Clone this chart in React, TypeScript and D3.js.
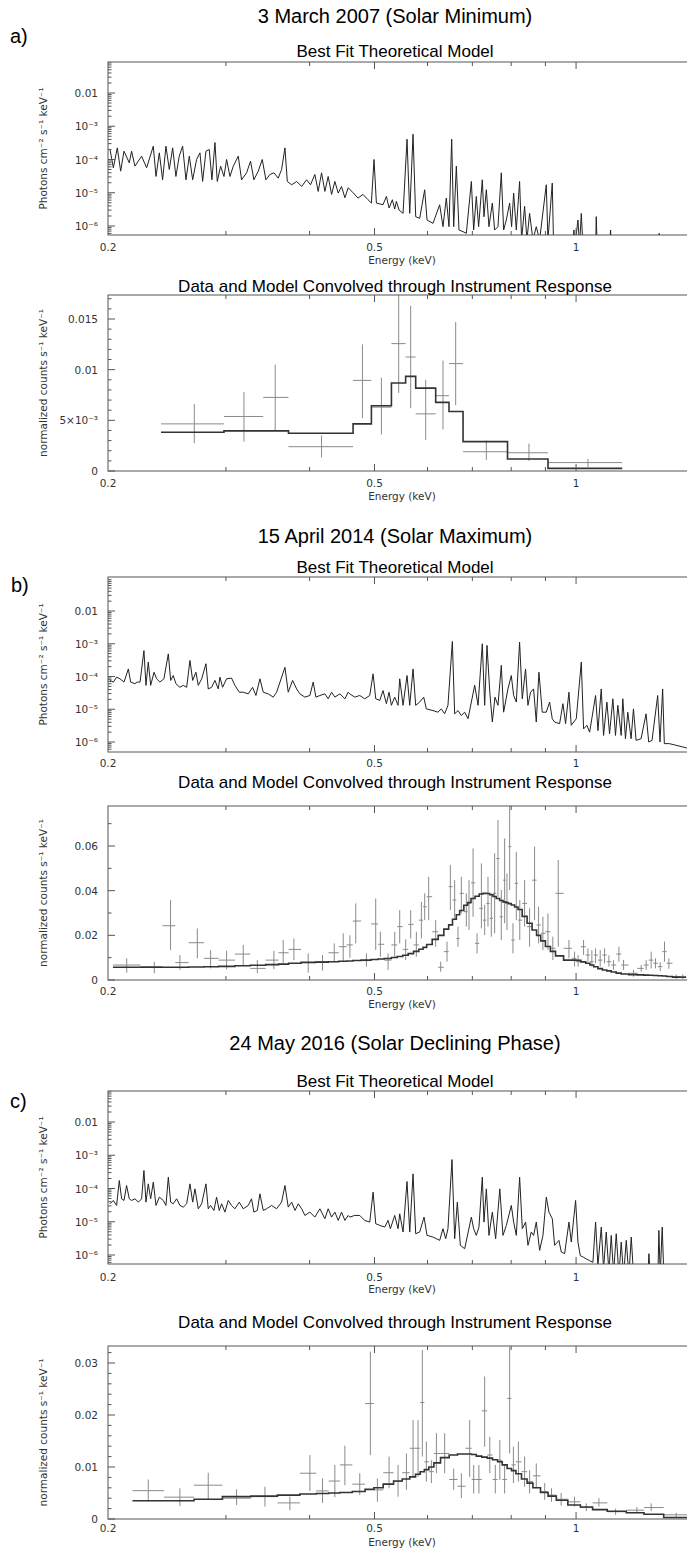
import React from 'react';
import * as d3 from 'd3';

// ---- text ----
const dates = ['3 March 2007 (Solar Minimum)', '15 April 2014 (Solar Maximum)', '24 May 2016 (Solar Declining Phase)'];
const letters = ['a)', 'b)', 'c)'];
const modelTitle = 'Best Fit Theoretical Model';
const dataTitle = 'Data and Model Convolved through Instrument Response';
const energyLabel = 'Energy (keV)';
const fluxLabel = 'Photons cm⁻² s⁻¹ keV⁻¹';
const countLabel = 'normalized counts s⁻¹ keV⁻¹';

// ---- energy axis (keV, log) ----
const energyDomain = [0.2, 1.5];
const energyTickValues = [0.2, 0.5, 1];
const energyTickLabels = ['0.2', '0.5', '1'];
const energyMinor = [0.3, 0.4, 0.6, 0.7, 0.8, 0.9];

// ---- flux axis of the model plots ----
const fluxTicks = [1e-6, 1e-5, 1e-4, 1e-3, 1e-2];
const fluxTickLabels = ['10⁻⁶', '10⁻⁵', '10⁻⁴', '10⁻³', '0.01'];

// ---- count axes of the folded plots ----
const countTicksA = [0, 0.005, 0.01, 0.015];
const countLabelsA = ['0', '5×10⁻³', '0.01', '0.015'];
const countTicksB = [0, 0.02, 0.04, 0.06];
const countLabelsB = ['0', '0.02', '0.04', '0.06'];
const countTicksC = [0, 0.01, 0.02, 0.03];
const countLabelsC = ['0', '0.01', '0.02', '0.03'];
const countMinorStep = [0.001, 0.01, 0.002];

// ---- model spectra: [energy keV, log10 flux] ----
const modelA = [
  [0.2014,-3.70],[0.2037,-4.25],[0.2065,-3.65],[0.2089,-4.35],[0.2113,-3.75],[0.2152,-4.10],[0.2169,-3.75],[0.2194,-4.20],
  [0.2245,-3.90],[0.2284,-4.25],[0.2337,-3.60],[0.2359,-4.51],[0.2386,-3.80],[0.2413,-4.61],[0.2441,-3.60],[0.2469,-4.30],
  [0.2498,-3.65],[0.2526,-4.51],[0.2555,-3.90],[0.2585,-3.60],[0.2615,-4.61],[0.2645,-3.90],[0.2676,-4.61],[0.2712,-4.00],
  [0.2744,-3.80],[0.2769,-4.66],[0.2801,-3.75],[0.2833,-3.70],[0.2859,-4.61],[0.2889,-3.49],[0.2912,-4.66],[0.2946,-4.20],
  [0.2980,-4.51],[0.3007,-4.00],[0.3042,-4.51],[0.3077,-4.20],[0.3130,-3.90],[0.3166,-4.61],[0.3221,-4.40],[0.3265,-4.05],
  [0.3303,-4.61],[0.3353,-4.35],[0.3399,-4.00],[0.3442,-4.61],[0.3490,-4.45],[0.3538,-4.40],[0.3591,-4.56],[0.3633,-4.30],
  [0.3675,-3.65],[0.3705,-4.66],[0.3761,-4.76],[0.3826,-4.66],[0.3892,-4.81],[0.3959,-4.61],[0.4013,-4.76],[0.4073,-4.45],
  [0.4120,-4.96],[0.4168,-4.40],[0.4216,-4.96],[0.4264,-4.51],[0.4314,-5.05],[0.4363,-4.66],[0.4414,-5.01],[0.4464,-4.81],
  [0.4516,-5.15],[0.4568,-4.85],[0.4645,-5.00],[0.4725,-5.16],[0.4807,-5.05],[0.4890,-5.21],[0.4947,-5.31],[0.4992,-4.00],
  [0.5033,-5.31],[0.5149,-5.36],[0.5209,-5.11],[0.5257,-5.46],[0.5317,-5.21],[0.5360,-5.49],[0.5391,-5.26],[0.5441,-5.52],
  [0.5516,-5.62],[0.5592,-3.39],[0.5644,-5.62],[0.5709,-3.24],[0.5761,-5.72],[0.5841,-5.77],[0.5942,-4.91],[0.5990,-5.82],
  [0.6114,-5.92],[0.6256,-5.36],[0.6328,-6.02],[0.6401,-5.16],[0.6460,-6.02],[0.6520,-3.39],[0.6565,-6.02],[0.6625,-4.20],
  [0.6686,-6.12],[0.6779,-6.17],[0.6857,-6.22],[0.6976,-4.66],[0.7032,-6.12],[0.7096,-5.11],[0.7153,-6.02],[0.7244,-4.61],
  [0.7286,-5.72],[0.7345,-4.91],[0.7412,-6.02],[0.7498,-5.31],[0.7558,-6.12],[0.7645,-6.02],[0.7733,-4.40],[0.7795,-6.12],
  [0.7867,-5.82],[0.7958,-5.31],[0.8012,-6.02],[0.8068,-5.01],[0.8142,-6.12],[0.8235,-4.66],[0.8292,-6.42],[0.8378,-5.41],
  [0.8445,-6.42],[0.8523,-5.62],[0.8621,-6.42],[0.8721,-6.02],[0.8821,-6.42],[0.9026,-4.76],[0.9078,-6.42],[0.9214,-4.71],
  [0.9256,-6.60],[0.9892,-6.60],[0.9926,-6.12],[0.9960,-6.60],[1.0065,-5.82],[1.0120,-6.60],[1.0181,-5.62],[1.0240,-6.60],
  [1.0700,-6.60],[1.0718,-5.72],[1.0750,-6.60],[1.1220,-6.60],[1.1259,-6.12],[1.1290,-6.60],[1.3270,-6.60],[1.3307,-6.22],
  [1.3340,-6.60],[1.5000,-6.60],
];

const modelB = [
  [0.2014,-4.12],[0.2037,-4.17],[0.2060,-4.02],[0.2084,-4.07],[0.2113,-4.17],[0.2145,-3.77],[0.2162,-4.17],[0.2194,-4.22],
  [0.2212,-4.17],[0.2233,-4.17],[0.2263,-3.21],[0.2279,-4.27],[0.2297,-3.56],[0.2316,-4.27],[0.2343,-3.87],[0.2364,-4.07],
  [0.2391,-4.17],[0.2424,-4.07],[0.2461,-3.31],[0.2481,-4.12],[0.2503,-3.97],[0.2526,-4.22],[0.2561,-4.33],[0.2591,-4.27],
  [0.2621,-4.33],[0.2651,-3.51],[0.2676,-4.12],[0.2706,-3.87],[0.2728,-4.27],[0.2760,-4.07],[0.2801,-3.61],[0.2823,-4.38],
  [0.2856,-4.33],[0.2889,-4.12],[0.2922,-4.38],[0.2939,-4.02],[0.2966,-4.33],[0.3007,-4.07],[0.3059,-4.05],[0.3094,-4.27],
  [0.3141,-4.48],[0.3184,-4.48],[0.3239,-4.53],[0.3288,-4.33],[0.3326,-4.58],[0.3372,-4.07],[0.3411,-4.48],[0.3470,-4.53],
  [0.3530,-4.63],[0.3571,-4.48],[0.3675,-3.72],[0.3717,-4.48],[0.3773,-4.12],[0.3826,-4.38],[0.3869,-4.53],[0.3936,-4.63],
  [0.4004,-4.58],[0.4050,-4.17],[0.4088,-4.63],[0.4144,-4.58],[0.4216,-4.53],[0.4264,-4.68],[0.4314,-4.48],[0.4363,-4.63],
  [0.4439,-4.53],[0.4516,-4.68],[0.4568,-4.48],[0.4592,-4.53],[0.4672,-4.63],[0.4753,-4.58],[0.4835,-4.68],[0.4919,-4.58],
  [0.4976,-3.92],[0.5022,-4.68],[0.5092,-4.73],[0.5149,-4.43],[0.5209,-4.83],[0.5257,-4.48],[0.5299,-4.88],[0.5360,-4.63],
  [0.5422,-4.88],[0.5453,-4.07],[0.5516,-4.88],[0.5592,-3.97],[0.5644,-4.88],[0.5709,-3.77],[0.5761,-4.88],[0.5841,-4.78],
  [0.5922,-4.63],[0.5976,-4.99],[0.6114,-5.04],[0.6219,-5.09],[0.6291,-4.99],[0.6364,-5.14],[0.6437,-4.88],[0.6535,-2.93],
  [0.6587,-5.14],[0.6663,-5.04],[0.6740,-5.19],[0.6818,-5.09],[0.6897,-5.29],[0.6976,-4.78],[0.7057,-4.27],[0.7139,-4.88],
  [0.7244,-3.00],[0.7303,-4.88],[0.7362,-3.05],[0.7433,-4.48],[0.7498,-5.39],[0.7567,-4.63],[0.7645,-4.88],[0.7733,-3.66],
  [0.7795,-5.09],[0.7911,-4.38],[0.8003,-3.97],[0.8068,-4.58],[0.8142,-4.78],[0.8235,-2.95],[0.8311,-4.68],[0.8406,-3.77],
  [0.8474,-4.88],[0.8552,-4.48],[0.8641,-4.38],[0.8721,-5.39],[0.8801,-3.87],[0.8902,-5.09],[0.9026,-5.09],[0.9130,-4.78],
  [0.9214,-5.29],[0.9288,-5.39],[0.9449,-5.44],[0.9558,-4.83],[0.9645,-5.44],[0.9757,-4.48],[0.9835,-5.49],[1.0007,-5.29],
  [1.0181,-3.56],[1.0262,-5.60],[1.0381,-5.49],[1.0477,-5.70],[1.0693,-4.58],[1.0781,-5.65],[1.0904,-4.38],[1.0991,-5.80],
  [1.1118,-4.78],[1.1220,-5.75],[1.1348,-4.68],[1.1452,-5.80],[1.1544,-4.88],[1.1677,-5.80],[1.1743,-4.68],[1.1851,-5.90],
  [1.1946,-5.09],[1.2083,-5.90],[1.2181,-4.99],[1.2292,-5.95],[1.2504,-5.90],[1.2720,-5.14],[1.2837,-6.00],[1.2984,-5.95],
  [1.3239,-4.58],[1.3345,-6.00],[1.3467,-4.38],[1.3545,-6.05],[1.3780,-6.05],[1.4100,-6.10],[1.4427,-6.15],[1.4609,-6.18],
  [1.5000,-6.20],
];

const modelC = [
  [0.2014,-4.46],[0.2037,-4.36],[0.2060,-4.51],[0.2079,-3.76],[0.2096,-4.31],[0.2113,-4.36],[0.2132,-3.91],[0.2152,-4.31],
  [0.2169,-4.36],[0.2194,-4.31],[0.2220,-4.41],[0.2245,-4.31],[0.2263,-3.46],[0.2279,-4.41],[0.2297,-3.86],[0.2316,-4.31],
  [0.2337,-3.81],[0.2359,-4.51],[0.2386,-4.26],[0.2419,-4.36],[0.2441,-4.51],[0.2461,-3.66],[0.2481,-4.41],[0.2503,-4.46],
  [0.2532,-4.31],[0.2561,-4.51],[0.2591,-4.56],[0.2621,-4.46],[0.2651,-3.86],[0.2676,-4.41],[0.2697,-4.01],[0.2728,-4.61],
  [0.2760,-4.46],[0.2801,-3.86],[0.2823,-4.61],[0.2846,-4.51],[0.2879,-4.66],[0.2905,-4.26],[0.2932,-4.66],[0.2956,-4.46],
  [0.2990,-4.71],[0.3024,-4.36],[0.3059,-4.51],[0.3094,-4.61],[0.3141,-4.41],[0.3184,-4.61],[0.3239,-4.51],[0.3276,-4.31],
  [0.3303,-4.71],[0.3342,-4.66],[0.3372,-4.16],[0.3411,-4.66],[0.3450,-4.61],[0.3510,-4.51],[0.3571,-4.61],[0.3633,-4.41],
  [0.3675,-3.91],[0.3717,-4.56],[0.3761,-4.41],[0.3804,-4.66],[0.3848,-4.46],[0.3892,-4.61],[0.3936,-4.81],[0.4004,-4.71],
  [0.4073,-4.86],[0.4144,-4.61],[0.4216,-4.91],[0.4264,-4.61],[0.4314,-4.86],[0.4363,-4.71],[0.4414,-4.96],[0.4464,-4.71],
  [0.4516,-4.96],[0.4568,-4.81],[0.4592,-4.86],[0.4672,-4.81],[0.4753,-4.81],[0.4835,-4.96],[0.4919,-5.01],[0.4976,-4.11],
  [0.5022,-5.06],[0.5092,-5.11],[0.5179,-5.16],[0.5239,-4.96],[0.5281,-5.21],[0.5360,-4.81],[0.5422,-5.21],[0.5453,-4.76],
  [0.5516,-5.31],[0.5592,-3.79],[0.5644,-5.31],[0.5709,-3.56],[0.5761,-5.36],[0.5841,-5.31],[0.5929,-4.86],[0.5990,-5.41],
  [0.6114,-5.46],[0.6256,-5.56],[0.6328,-5.21],[0.6387,-5.51],[0.6437,-5.21],[0.6527,-3.13],[0.6587,-5.51],[0.6648,-4.41],
  [0.6717,-5.71],[0.6818,-5.81],[0.6976,-4.86],[0.7032,-5.21],[0.7096,-5.41],[0.7161,-5.16],[0.7244,-3.66],[0.7286,-5.01],
  [0.7345,-4.01],[0.7412,-5.41],[0.7498,-4.71],[0.7584,-5.51],[0.7693,-4.01],[0.7777,-5.41],[0.7868,-5.11],[0.8004,-4.51],
  [0.8068,-5.01],[0.8142,-5.41],[0.8236,-3.66],[0.8312,-5.21],[0.8407,-5.01],[0.8475,-5.71],[0.8573,-5.31],[0.8642,-5.41],
  [0.8722,-5.01],[0.8822,-5.86],[0.8924,-5.41],[0.9027,-4.26],[0.9109,-4.71],[0.9215,-4.91],[0.9289,-5.71],[0.9428,-5.56],
  [0.9504,-5.91],[0.9614,-5.96],[0.9758,-5.01],[0.9836,-5.61],[0.9984,-4.36],[1.0065,-5.61],[1.0146,-6.02],[1.0263,-6.07],
  [1.0357,-6.12],[1.0476,-6.17],[1.0596,-6.22],[1.0694,-5.01],[1.0780,-6.32],[1.0905,-5.16],[1.0992,-6.42],[1.1093,-5.31],
  [1.1195,-6.52],[1.1286,-5.41],[1.1376,-6.57],[1.1481,-5.36],[1.1587,-6.62],[1.1680,-5.61],[1.1774,-6.62],[1.1883,-5.56],
  [1.1992,-6.62],[1.2089,-5.46],[1.2186,-6.62],[1.2800,-6.62],[1.2846,-5.96],[1.2904,-6.62],[1.3249,-6.62],[1.3294,-5.26],
  [1.3355,-6.62],[1.3447,-5.16],[1.3524,-6.62],[1.5000,-6.62],
];

// ---- folded spectra: [bin centre keV, counts, err low, err high, folded model] ----
const edgesA = [0.240, 0.298, 0.341, 0.372, 0.4645, 0.4947, 0.530, 0.5565, 0.5761, 0.6171, 0.646, 0.678, 0.790, 0.908, 1.172];
const foldedA = [
  [0.2691,0.00465,0.00274,0.0066,0.00383],[0.3192,0.00538,0.0029,0.0078,0.00396],[0.3554,0.00726,0.00396,0.0105,0.00396],
  [0.4168,0.0024,0.00135,0.0035,0.00373],[0.4797,0.00894,0.0052,0.0125,0.00465],[0.5120,0.0063,0.0036,0.0092,0.00644],
  [0.5434,0.01257,0.0077,0.0175,0.00868],[0.5663,0.01125,0.0062,0.0163,0.00934],[0.5963,0.00564,0.00307,0.009,0.00818],
  [0.6328,0.00743,0.0041,0.0109,0.00677],[0.6610,0.0106,0.0065,0.0147,0.00587],[0.7345,0.0019,0.0011,0.0030,0.0029],
  [0.8504,0.0018,0.0010,0.0027,0.00119],[1.0416,0.00083,0.0004,0.0012,0.00026],
];

const foldedB = [
  [0.2133,.0067,.0033,.0097,.0057],[0.2345,.0060,.0030,.0082,.0057],[0.2480,.0243,.0134,.0358,.0057],[0.2561,.0078,.0045,.0112,.0057],
  [0.2719,.0167,.0097,.0231,.0058],[0.2846,.0097,.0052,.0134,.0059],[0.3007,.0089,.0048,.0131,.0061],[0.3184,.0116,.0067,.0157,.0064],
  [0.3342,.0052,.0030,.0089,.0066],[0.3538,.0089,.0048,.0131,.0069],[0.3653,.0122,.0075,.0179,.0071],[0.3790,.0137,.0089,.0186,.0075],
  [0.3981,.0078,.0033,.0119,.0079],[0.4182,.0082,.0042,.0112,.0080],[0.4354,.0122,.0082,.0164,.0082],[0.4490,.0149,.0082,.0209,.0084],
  [0.4595,.0157,.0100,.0200,.0085],[0.4688,.0264,.0164,.0343,.0087],[0.4863,.0087,.0060,.0119,.0089],[0.5021,.0251,.0134,.0365,.0092],
  [0.5102,.0160,.0104,.0216,.0094],[0.5239,.0089,.0045,.0119,.0096],[0.5360,.0157,.0104,.0216,.0101],[0.5453,.0239,.0164,.0313,.0105],
  [0.5566,.0137,.0089,.0182,.0111],[0.5663,.0249,.0186,.0313,.0118],[0.5774,.0157,.0104,.0216,.0128],[0.5875,.0268,.0186,.0350,.0138],
  [0.5942,.0328,.0268,.0388,.0146],[0.6024,.0373,.0268,.0462,.0159],[0.6171,.0216,.0149,.0268,.0182],[0.6278,.0057,.0037,.0082,.0200],
  [0.6416,.0127,.0082,.0172,.0228],[0.6490,.0418,.0313,.0515,.0247],[0.6587,.0358,.0268,.0447,.0272],[0.6663,.0186,.0149,.0239,.0292],
  [0.6740,.0388,.0298,.0462,.0311],[0.6857,.0306,.0239,.0388,.0335],[0.6920,.0343,.0224,.0447,.0347],[0.7017,.0435,.0283,.0589,.0365],
  [0.7114,.0164,.0119,.0209,.0375],[0.7221,.0321,.0231,.0522,.0385],[0.7303,.0268,.0201,.0336,.0388],[0.7387,.0343,.0239,.0462,.0387],
  [0.7472,.0276,.0194,.0388,.0382],[0.7558,.0388,.0209,.0567,.0374],[0.7645,.0544,.0373,.0716,.0365],[0.7733,.0283,.0179,.0403,.0356],
  [0.7822,.0447,.0254,.0634,.0350],[0.7885,.0343,.0224,.0477,.0347],[0.7958,.0597,.0403,.0780,.0342],[0.8049,.0179,.0119,.0254,.0336],
  [0.8142,.0433,.0268,.0574,.0327],[0.8240,.0268,.0179,.0358,.0316],[0.8378,.0343,.0239,.0447,.0285],[0.8523,.0239,.0149,.0321,.0254],
  [0.8670,.0447,.0268,.0597,.0224],[0.8790,.0246,.0164,.0328,.0200],[0.8922,.0209,.0134,.0283,.0175],[0.9078,.0216,.0134,.0298,.0150],
  [0.9232,.0142,.0089,.0194,.0128],[0.9405,.0388,.0149,.0537,.0108],[0.9758,.0142,.0097,.0179,.0089],[0.9948,.0097,.0060,.0127,.0089],
  [1.0070,.0082,.0060,.0112,.0088],[1.0261,.0149,.0112,.0179,.0081],[1.0416,.0112,.0082,.0142,.0075],[1.0558,.0082,.0060,.0134,.0067],
  [1.0693,.0112,.0075,.0142,.0059],[1.0865,.0089,.0060,.0134,.0051],[1.1029,.0112,.0075,.0142,.0045],[1.1195,.0082,.0060,.0110,.0041],
  [1.1375,.0067,.0045,.0089,.0036],[1.1586,.0116,.0082,.0149,.0031],[1.1774,.0067,.0045,.0090,.0027],[1.2185,.0030,.0015,.0045,.0024],
  [1.2509,.0052,.0037,.0067,.0023],[1.2726,.0067,.0045,.0089,.0022],[1.2946,.0089,.0052,.0127,.0021],[1.3141,.0075,.0052,.0097,.0020],
  [1.3353,.0060,.0040,.0080,.0019],[1.3554,.0127,.0082,.0172,.0018],[1.3758,.0075,.0050,.0097,.0016],[1.4109,.0015,.0005,.0025,.0013],
  [1.4433,.0015,.0005,.0025,.0012],
];

const foldedC = [
  [0.2297,.00545,.0033,.0076,.0035],[0.2561,.0042,.0025,.0059,.0035],[0.2823,.0065,.0037,.0089,.0038],[0.3112,.0040,.0027,.0057,.0043],
  [0.3431,.0043,.0024,.0062,.0044],[0.3738,.0031,.0017,.0043,.0046],[0.4004,.0088,.0054,.0123,.0048],[0.4182,.0054,.0031,.0078,.0049],
  [0.4363,.0073,.0042,.0104,.0050],[0.4516,.0104,.0065,.0141,.0051],[0.4753,.0067,.0046,.0088,.0053],[0.4930,.0222,.0123,.0322,.0057],
  [0.5050,.0056,.0033,.0078,.0060],[0.5257,.0089,.0059,.0120,.0067],[0.5422,.0072,.0043,.0104,.0073],[0.5580,.0089,.0056,.0126,.0077],
  [0.5709,.0136,.0081,.0190,.0081],[0.5808,.0136,.0081,.0190,.0086],[0.5894,.0224,.0120,.0325,.0091],[0.5976,.0110,.0072,.0149,.0095],
  [0.6080,.0091,.0069,.0113,.0100],[0.6186,.0126,.0088,.0165,.0108],[0.6365,.0126,.0088,.0165,.0118],[0.6565,.0076,.0056,.0097,.0123],
  [0.6740,.0063,.0040,.0088,.0125],[0.6936,.0136,.0081,.0190,.0125],[0.7032,.0076,.0049,.0104,.0124],[0.7160,.0076,.0049,.0104,.0121],
  [0.7303,.0208,.0139,.0274,.0119],[0.7433,.0123,.0088,.0158,.0117],[0.7575,.0076,.0049,.0104,.0114],[0.7694,.0113,.0075,.0152,.0110],
  [0.7822,.0076,.0049,.0104,.0104],[0.7958,.0232,.0126,.0331,.0097],[0.8061,.0104,.0069,.0139,.0093],[0.8201,.0110,.0072,.0149,.0087],
  [0.8378,.0091,.0062,.0120,.0077],[0.8523,.0072,.0049,.0094,.0069],[0.8721,.0083,.0059,.0107,.0060],[0.8977,.0053,.0037,.0069,.0051],
  [0.9190,.0046,.0033,.0059,.0044],[0.9499,.0038,.0026,.0050,.0036],[0.9948,.0033,.0024,.0043,.0027],[1.0357,.0022,.0015,.0030,.0023],
  [1.0816,.0031,.0024,.0040,.0018],[1.1456,.0014,.0008,.0020,.0015],[1.2326,.0017,.0011,.0023,.0012],[1.2946,.0022,.0015,.0030,.0009],
  [1.4109,.0008,.0004,.0012,.0003],
];

// ---- layout ----
const W = 687, H = 1553;
const X0 = 108, X1 = 694;
const AXIS_FONT = '"DejaVu Sans", sans-serif';
const TITLE_FONT = '"Liberation Sans", Arial, sans-serif';
const FRAME = '#555';
const INK = '#333';

const x = d3.scaleLog().domain(energyDomain).range([X0, X1]);

const layouts = [
  { titleY: 23, letterY: 43, letterX: 10, mTitleY: 57, mTop: 62, mBot: 235, mY2: 93, mY6: 226, mTickY: 251, mEnergyY: 264,
    dTitleY: 292, dTop: 295, dBot: 471, dRefY: 319, dTickY: 486.5, dEnergyY: 500 },
  { titleY: 543, letterY: 592, letterX: 11, mTitleY: 573, mTop: 577, mBot: 752, mY2: 611, mY6: 742, mTickY: 767, mEnergyY: null,
    dTitleY: 788, dTop: 806, dBot: 980, dRefY: 846, dTickY: 995, dEnergyY: 1008 },
  { titleY: 1050, letterY: 1108, letterX: 10, mTitleY: 1087, mTop: 1091, mBot: 1264, mY2: 1122, mY6: 1255, mTickY: 1281, mEnergyY: 1293,
    dTitleY: 1328, dTop: 1346, dBot: 1519, dRefY: 1363, dTickY: 1532, dEnergyY: 1546 },
];

function EnergyAxis({ top, bottom, tickY, energyY }) {
  const major = energyTickValues.slice(1);
  return (
    <g>
      <g stroke={FRAME} strokeWidth={1}>
        {major.map(v => (
          <g key={'M' + v}>
            <line x1={x(v)} x2={x(v)} y1={bottom} y2={bottom - 7} />
            <line x1={x(v)} x2={x(v)} y1={top} y2={top + 7} />
          </g>
        ))}
        {energyMinor.map(v => (
          <g key={'m' + v}>
            <line x1={x(v)} x2={x(v)} y1={bottom} y2={bottom - 4} />
            <line x1={x(v)} x2={x(v)} y1={top} y2={top + 4} />
          </g>
        ))}
      </g>
      <g fontFamily={AXIS_FONT} fontSize={10.5} fill={INK} textAnchor="middle">
        {energyTickValues.map((v, i) => (
          <text key={v} x={x(v)} y={tickY}>{energyTickLabels[i]}</text>
        ))}
        {energyY != null && <text x={402} y={energyY}>{energyLabel}</text>}
      </g>
    </g>
  );
}

function YLabel({ top, bottom, text }) {
  const cy = (top + bottom) / 2;
  return (
    <text transform={`translate(47,${cy}) rotate(-90)`} textAnchor="middle"
      fontFamily={AXIS_FONT} fontSize={10.5} fill={INK}>{text}</text>
  );
}

function ModelPlot({ L, spectrum, id }) {
  const y = d3.scaleLog().domain([1e-6, 1e-2]).range([L.mY6, L.mY2]);
  const line = d3.line().x(d => x(d[0])).y(d => y(Math.pow(10, d[1])));
  const minors = [];
  for (let p = -7; p <= -1; p++) {
    for (let k = 2; k <= 9; k++) {
      const yy = y(k * Math.pow(10, p));
      if (yy > L.mTop + 0.5 && yy < L.mBot - 0.5) minors.push(yy);
    }
  }
  return (
    <g>
      <clipPath id={id}><rect x={X0} y={L.mTop} width={X1 - X0} height={L.mBot - L.mTop} /></clipPath>
      <path d={line(spectrum)} fill="none" stroke="#222" strokeWidth={1} strokeLinejoin="round" clipPath={`url(#${id})`} />
      <rect x={X0} y={L.mTop} width={X1 - X0} height={L.mBot - L.mTop} fill="none" stroke={FRAME} strokeWidth={1} />
      <g stroke={FRAME} strokeWidth={1}>
        {fluxTicks.map(v => <line key={v} x1={X0} x2={X0 + 7} y1={y(v)} y2={y(v)} />)}
        {minors.map((yy, i) => <line key={i} x1={X0} x2={X0 + 3.5} y1={yy} y2={yy} />)}
      </g>
      <g fontFamily={AXIS_FONT} fontSize={10.5} fill={INK} textAnchor="end">
        {fluxTicks.map((v, i) => <text key={v} x={98} y={y(v) + 4}>{fluxTickLabels[i]}</text>)}
      </g>
      <EnergyAxis top={L.mTop} bottom={L.mBot} tickY={L.mTickY} energyY={L.mEnergyY} />
      <YLabel top={L.mTop} bottom={L.mBot} text={fluxLabel} />
      <text x={395} y={L.mTitleY} textAnchor="middle" fontFamily={TITLE_FONT} fontSize={17} fill="#000">{modelTitle}</text>
    </g>
  );
}

function DataPlot({ L, bins, edges, ticks, labels, minorStep, id }) {
  const y = d3.scaleLinear().domain([0, ticks[ticks.length - 1]]).range([L.dBot, L.dRefY]);
  const xs = bins.map(b => x(b[0]));
  let lefts, rights;
  if (edges) {
    lefts = bins.map((b, i) => x(edges[i]));
    rights = bins.map((b, i) => x(edges[i + 1]));
  } else {
    lefts = xs.map((v, i) => (i === 0 ? v - (xs[1] - v) / 2 : (xs[i - 1] + v) / 2));
    rights = xs.map((v, i) => (i === xs.length - 1 ? v + (v - xs[i - 1]) / 2 : (xs[i + 1] + v) / 2));
  }
  const stepPts = bins.map((b, i) => [lefts[i], y(b[4])]);
  stepPts.push([rights[rights.length - 1], y(bins[bins.length - 1][4])]);
  const step = d3.line().curve(d3.curveStepAfter)(stepPts);
  const topVal = y.invert(L.dTop);
  const minors = d3.range(0, topVal, minorStep).filter(v => !ticks.some(t => Math.abs(t - v) < minorStep / 10));
  return (
    <g>
      <clipPath id={id}><rect x={X0} y={L.dTop} width={X1 - X0} height={L.dBot - L.dTop} /></clipPath>
      <g clipPath={`url(#${id})`} stroke="#8a8a8a" strokeWidth={1}>
        {bins.map((b, i) => (
          <g key={i}>
            <line x1={xs[i]} x2={xs[i]} y1={y(b[2])} y2={y(b[3])} />
            <line x1={lefts[i]} x2={rights[i]} y1={y(b[1])} y2={y(b[1])} />
          </g>
        ))}
        <path d={step} fill="none" stroke="#333" strokeWidth={1.6} />
      </g>
      <rect x={X0} y={L.dTop} width={X1 - X0} height={L.dBot - L.dTop} fill="none" stroke={FRAME} strokeWidth={1} />
      <g stroke={FRAME} strokeWidth={1}>
        {ticks.map(v => <line key={v} x1={X0} x2={X0 + 7} y1={y(v)} y2={y(v)} />)}
        {minors.map((v, i) => <line key={i} x1={X0} x2={X0 + 3.5} y1={y(v)} y2={y(v)} />)}
      </g>
      <g fontFamily={AXIS_FONT} fontSize={10.5} fill={INK} textAnchor="end">
        {ticks.map((v, i) => <text key={v} x={98} y={y(v) + 4}>{labels[i]}</text>)}
      </g>
      <EnergyAxis top={L.dTop} bottom={L.dBot} tickY={L.dTickY} energyY={L.dEnergyY} />
      <YLabel top={L.dTop} bottom={L.dBot} text={countLabel} />
      <text x={395} y={L.dTitleY} textAnchor="middle" fontFamily={TITLE_FONT} fontSize={17} fill="#000">{dataTitle}</text>
    </g>
  );
}

export default function App() {
  const models = [modelA, modelB, modelC];
  const folded = [foldedA, foldedB, foldedC];
  const edges = [edgesA, null, null];
  const ticks = [countTicksA, countTicksB, countTicksC];
  const labels = [countLabelsA, countLabelsB, countLabelsC];
  return (
    <div>
      <svg width={W} height={H} style={{ position: 'absolute', left: 0, top: 0, background: '#fff' }}>
        {layouts.map((L, i) => (
          <g key={i}>
            <text x={395} y={L.titleY} textAnchor="middle" fontFamily={TITLE_FONT} fontSize={20} fill="#000">{dates[i]}</text>
            <text x={L.letterX} y={L.letterY} fontFamily={TITLE_FONT} fontSize={20} fill="#000">{letters[i]}</text>
            <ModelPlot L={L} spectrum={models[i]} id={`mclip${i}`} />
            <DataPlot L={L} bins={folded[i]} edges={edges[i]} ticks={ticks[i]} labels={labels[i]}
              minorStep={countMinorStep[i]} id={`dclip${i}`} />
          </g>
        ))}
      </svg>
    </div>
  );
}
